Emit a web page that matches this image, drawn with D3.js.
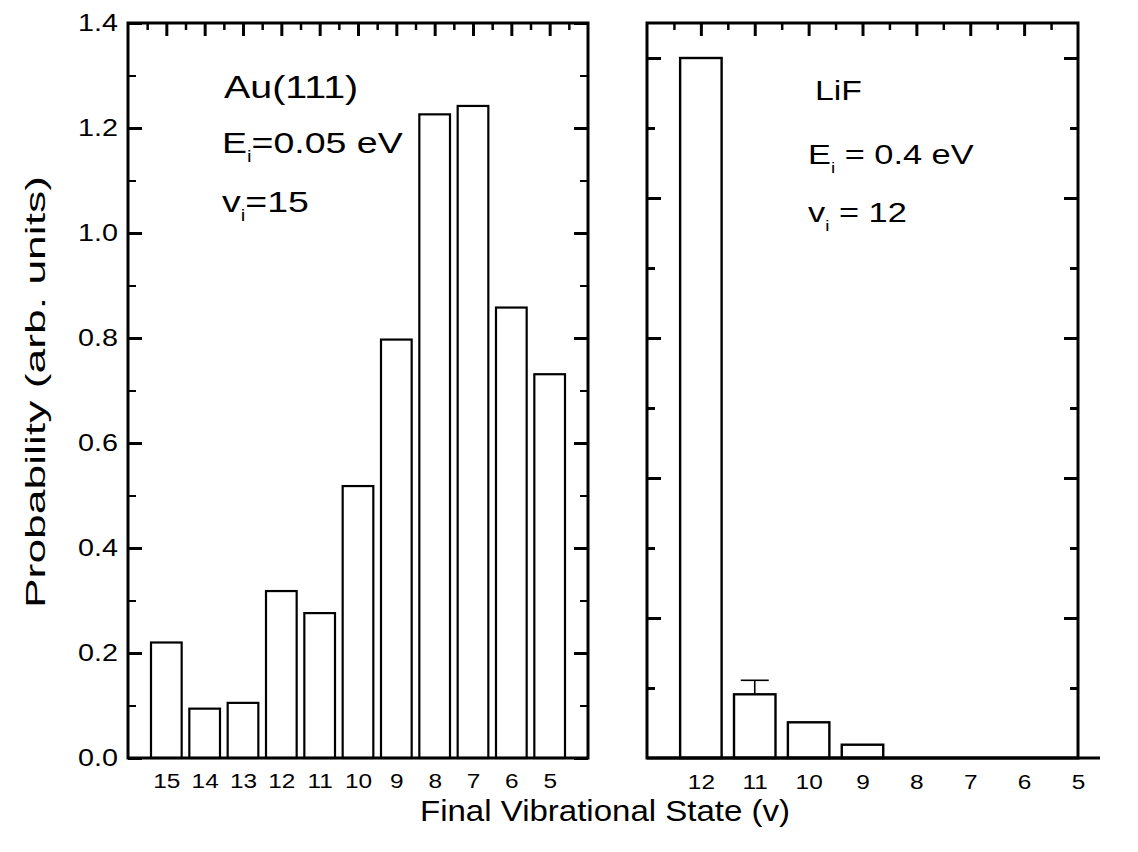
<!DOCTYPE html>
<html>
<head>
<meta charset="utf-8">
<script src="https://cdn.jsdelivr.net/npm/d3@7/dist/d3.min.js"></script>
<style>
  html, body { margin: 0; padding: 0; background: #fff; }
  svg { display: block; }
  text { font-family: "Liberation Sans", Arial, Helvetica, sans-serif; fill: #000; }
</style>
</head>
<body>
<svg id="chart" width="1138" height="852"></svg>
<script>
// ---- data ----
const auStates = [15, 14, 13, 12, 11, 10, 9, 8, 7, 6, 5];
const auProb   = [0.220, 0.094, 0.105, 0.318, 0.276, 0.518, 0.797, 1.226, 1.242, 0.858, 0.731];

const lifStates = [12, 11, 10, 9, 8, 7, 6, 5];
const lifProb   = [1.000, 0.091, 0.051, 0.019, 0, 0, 0, 0];
const lifErrUp  = [0, 0.020, 0, 0, 0, 0, 0, 0];

const yTicksLeft = [0.0, 0.2, 0.4, 0.6, 0.8, 1.0, 1.2, 1.4];
const yMinorLeft = [0.1, 0.3, 0.5, 0.7, 0.9, 1.1, 1.3];
const yTicksRight = [0.2, 0.4, 0.6, 0.8, 1.0];
const yMinorRight = [0.1, 0.3, 0.5, 0.7, 0.9];

const svg = d3.select("#chart");
const SX = 1.25; // horizontal stretch of the lettering

// ---- panel geometry ----
const yTop = 23, yBot = 758;
const L = { x0: 128, x1: 588 };
const R = { x0: 647, x1: 1078 };

const xL = d3.scaleLinear().domain([16, 4]).range([L.x0, L.x1]);
const yL = d3.scaleLinear().domain([0, 1.4]).range([yBot, yTop]);
const xR = d3.scaleLinear().domain([13, 5]).range([R.x0, R.x1]);
const yR = d3.scaleLinear().domain([0, 1.05]).range([yBot, yTop]);

function noDomain(g) { g.select(".domain").remove(); }
function styleTicks(g, w) {
  g.selectAll(".tick line").attr("stroke", "#000").attr("stroke-width", w);
}
const FONT = "'Liberation Sans', Arial, sans-serif";

// ---- LEFT PANEL ----
const gL = svg.append("g");

const bwL = (xL(15) - xL(16)) * 0.8;
gL.selectAll("rect.bar").data(auStates).join("rect")
  .attr("class", "bar")
  .attr("x", (d) => xL(d) - bwL / 2)
  .attr("width", bwL)
  .attr("y", (d, i) => yL(auProb[i]))
  .attr("height", (d, i) => yL(0) - yL(auProb[i]))
  .attr("fill", "#fff").attr("stroke", "#000").attr("stroke-width", 2.2);

gL.append("g").attr("transform", `translate(${L.x0},0)`)
  .call(d3.axisLeft(yL).tickValues(yTicksLeft).tickSize(-14).tickPadding(10).tickFormat(d3.format(".1f")))
  .call(noDomain)
  .call(g => styleTicks(g, 3))
  .call(g => g.selectAll(".tick text")
    .attr("x", -10 / SX).attr("transform", `scale(${SX},1)`)
    .style("font-size", "23px").style("font-family", FONT).attr("fill", "#000"));
gL.append("g").attr("transform", `translate(${L.x0},0)`)
  .call(d3.axisLeft(yL).tickValues(yMinorLeft).tickSize(-8).tickFormat(""))
  .call(noDomain).call(g => styleTicks(g, 2));
gL.append("g").attr("transform", `translate(${L.x1},0)`)
  .call(d3.axisRight(yL).tickValues(yTicksLeft).tickSize(-14).tickFormat(""))
  .call(noDomain).call(g => styleTicks(g, 3));
gL.append("g").attr("transform", `translate(${L.x1},0)`)
  .call(d3.axisRight(yL).tickValues(yMinorLeft).tickSize(-8).tickFormat(""))
  .call(noDomain).call(g => styleTicks(g, 2));
const topMajL = d3.range(15, 4, -1);
const topMinL = d3.range(15.5, 4, -1);
gL.append("g").attr("transform", `translate(0,${yTop})`)
  .call(d3.axisTop(xL).tickValues(topMajL).tickSize(-13).tickFormat(""))
  .call(noDomain).call(g => styleTicks(g, 3));
gL.append("g").attr("transform", `translate(0,${yTop})`)
  .call(d3.axisTop(xL).tickValues(topMinL).tickSize(-7).tickFormat(""))
  .call(noDomain).call(g => styleTicks(g, 2.5));
gL.append("g").attr("transform", `translate(0,${yBot})`)
  .call(d3.axisBottom(xL).tickValues(auStates).tickSize(0).tickPadding(16).tickFormat(d3.format("d")))
  .call(noDomain)
  .call(g => g.selectAll(".tick text").attr("transform", `scale(${SX},1)`)
    .style("font-size", "19.5px").style("font-family", FONT).attr("fill", "#000"));
gL.append("rect").attr("x", L.x0).attr("y", yTop).attr("width", L.x1 - L.x0).attr("height", yBot - yTop)
  .attr("fill", "none").attr("stroke", "#000").attr("stroke-width", 3);

// ---- RIGHT PANEL ----
const gR = svg.append("g");
const bwR = (xR(12) - xR(13)) * 0.77;
const lifBars = lifStates.map((s, i) => ({ s, v: lifProb[i], e: lifErrUp[i] })).filter(d => d.v > 0);
gR.selectAll("rect.bar").data(lifBars).join("rect")
  .attr("class", "bar")
  .attr("x", d => xR(d.s) - bwR / 2)
  .attr("width", bwR)
  .attr("y", d => yR(d.v))
  .attr("height", d => yR(0) - yR(d.v))
  .attr("fill", "#fff").attr("stroke", "#000").attr("stroke-width", 2.4);
const errs = lifBars.filter(d => d.e > 0);
const capW = (xR(12) - xR(13)) * 0.26;
gR.selectAll("line.err").data(errs).join("line")
  .attr("class", "err")
  .attr("x1", d => xR(d.s)).attr("x2", d => xR(d.s))
  .attr("y1", d => yR(d.v)).attr("y2", d => yR(d.v + d.e))
  .attr("stroke", "#000").attr("stroke-width", 1.6);
gR.selectAll("line.cap").data(errs).join("line")
  .attr("class", "cap")
  .attr("x1", d => xR(d.s) - capW).attr("x2", d => xR(d.s) + capW)
  .attr("y1", d => yR(d.v + d.e)).attr("y2", d => yR(d.v + d.e))
  .attr("stroke", "#000").attr("stroke-width", 1.6);

gR.append("g").attr("transform", `translate(${R.x0},0)`)
  .call(d3.axisLeft(yR).tickValues(yTicksRight).tickSize(-14).tickFormat(""))
  .call(noDomain).call(g => styleTicks(g, 3));
gR.append("g").attr("transform", `translate(${R.x0},0)`)
  .call(d3.axisLeft(yR).tickValues(yMinorRight).tickSize(-8).tickFormat(""))
  .call(noDomain).call(g => styleTicks(g, 3));
gR.append("g").attr("transform", `translate(${R.x1},0)`)
  .call(d3.axisRight(yR).tickValues(yTicksRight).tickSize(-14).tickFormat(""))
  .call(noDomain).call(g => styleTicks(g, 3));
gR.append("g").attr("transform", `translate(${R.x1},0)`)
  .call(d3.axisRight(yR).tickValues(yMinorRight).tickSize(-8).tickFormat(""))
  .call(noDomain).call(g => styleTicks(g, 3));
const topMajR = d3.range(12, 5, -1);
const topMinR = d3.range(12.5, 5, -1);
gR.append("g").attr("transform", `translate(0,${yTop})`)
  .call(d3.axisTop(xR).tickValues(topMajR).tickSize(-13).tickFormat(""))
  .call(noDomain).call(g => styleTicks(g, 3));
gR.append("g").attr("transform", `translate(0,${yTop})`)
  .call(d3.axisTop(xR).tickValues(topMinR).tickSize(-7).tickFormat(""))
  .call(noDomain).call(g => styleTicks(g, 2.5));
gR.append("g").attr("transform", `translate(0,${yBot})`)
  .call(d3.axisBottom(xR).tickValues(lifStates).tickSize(0).tickPadding(17).tickFormat(d3.format("d")))
  .call(noDomain)
  .call(g => g.selectAll(".tick text").attr("transform", `scale(${SX},1)`)
    .style("font-size", "19.5px").style("font-family", FONT).attr("fill", "#000"));
gR.append("rect").attr("x", R.x0).attr("y", yTop).attr("width", R.x1 - R.x0).attr("height", yBot - yTop)
  .attr("fill", "none").attr("stroke", "#000").attr("stroke-width", 3);
gR.append("line").attr("x1", R.x0).attr("x2", 1100).attr("y1", yBot).attr("y2", yBot)
  .attr("stroke", "#000").attr("stroke-width", 3);

// ---- annotations ----
function label(x, y, parts, size) {
  const g = svg.append("g").attr("transform", `translate(${x},${y}) scale(${SX},1)`);
  const t = g.append("text").attr("x", 0).attr("y", 0).style("font-size", size + "px");
  let shift = 0;
  parts.forEach(p => {
    const ts = t.append("tspan").text(p.t);
    if (p.sub) {
      ts.style("font-size", (size * 0.55) + "px").attr("dy", 9 - shift);
      shift = 9;
    } else {
      ts.attr("dy", -shift);
      shift = 0;
    }
  });
}
label(224, 98, [{ t: "Au(111)" }], 31.5);
label(222, 153, [{ t: "E" }, { t: "i", sub: true }, { t: "=0.05 eV" }], 30);
label(222, 212, [{ t: "v" }, { t: "i", sub: true }, { t: "=15" }], 30);

label(815, 100, [{ t: "LiF" }], 27);
label(808, 164, [{ t: "E" }, { t: "i", sub: true }, { t: " = 0.4 eV" }], 27.5);
label(808, 222, [{ t: "v" }, { t: "i", sub: true }, { t: " = 12" }], 27.5);

// ---- axis titles ----
svg.append("text")
  .attr("transform", `translate(45,392) rotate(-90)`)
  .attr("text-anchor", "middle")
  .attr("textLength", 432).attr("lengthAdjust", "spacingAndGlyphs")
  .style("font-size", "28.5px")
  .text("Probability (arb. units)");
svg.append("text")
  .attr("x", 605).attr("y", 821)
  .attr("text-anchor", "middle")
  .attr("textLength", 370).attr("lengthAdjust", "spacingAndGlyphs")
  .style("font-size", "29px")
  .text("Final Vibrational State (v)");
</script>
</body>
</html>
